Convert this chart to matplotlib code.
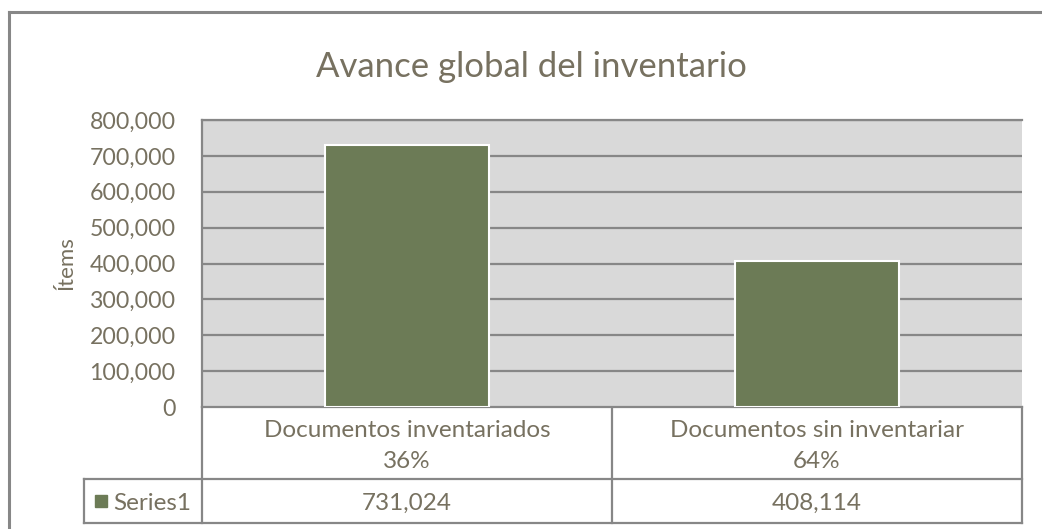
import matplotlib

matplotlib.use("Agg")

import matplotlib.pyplot as plt
from matplotlib.ticker import FuncFormatter

# data
categories = ["Documentos inventariados", "Documentos sin inventariar"]
shares = ["36%", "64%"]
values = [731024, 408114]
series_name = "Series1"
y_ticks = [0, 100000, 200000, 300000, 400000, 500000, 600000, 700000, 800000]

BAR = "#6C7B56"
PLOT_BG = "#D9D9D9"
LINE = "#878787"
TEXT = "#777160"
FONT = "Lato"

W, H = 1042, 529
fig = plt.figure(figsize=(W / 100, H / 100), dpi=100)
fig.patch.set_facecolor("white")

# pixel-space overlay for border, title and data table
bg = fig.add_axes([0, 0, 1, 1])
bg.set_xlim(0, W)
bg.set_ylim(H, 0)
bg.axis("off")

# plot area (202..1022 x 120..407 px)
ax = fig.add_axes([202 / W, 1 - 407 / H, 820 / W, 287 / H])
ax.set_facecolor(PLOT_BG)
x = range(len(values))
ax.bar(x, values, width=0.4, color=BAR, edgecolor="white", linewidth=1.5, zorder=3)
ax.set_xlim(-0.5, len(values) - 0.5)
ax.set_ylim(y_ticks[0], y_ticks[-1])
ax.set_yticks(y_ticks)
ax.yaxis.set_major_formatter(FuncFormatter(lambda v, _: f"{int(v):,}"))
ax.set_xticks([])
ax.tick_params(axis="y", length=0, pad=19, labelsize=16.7, labelcolor=TEXT)
for lbl in ax.get_yticklabels():
    lbl.set_fontfamily(FONT)
ax.grid(axis="y", color=LINE, linewidth=1.6, zorder=1)
for side in ["top", "right", "bottom"]:
    ax.spines[side].set_visible(False)
ax.spines["left"].set_color(LINE)
ax.spines["left"].set_linewidth(1.6)
ax.axhline(y_ticks[-1], color=LINE, linewidth=1.6, zorder=1, clip_on=False)

# chart outer border (left and top visible)
bg.plot([9, 9], [12, H], color=LINE, linewidth=2.2)
bg.plot([9, W], [12, 12], color=LINE, linewidth=2.2)

bg.text(531, 67, "Avance global del inventario", ha="center", va="center",
        fontsize=25, color=TEXT, family=FONT)
bg.text(66, 263, "Ítems", ha="center", va="center", rotation=90,
        fontsize=16, color=TEXT, family=FONT)

# data table
left, mid, right = 202, 612, 1022
row0, row1, row2 = 407, 479, 523
key_left = 84
lw = 1.6
bg.plot([left, right], [row0, row0], color=LINE, linewidth=lw)
bg.plot([key_left, right], [row1, row1], color=LINE, linewidth=lw)
bg.plot([key_left, right], [row2, row2], color=LINE, linewidth=lw)
for xx in (left, mid, right):
    bg.plot([xx, xx], [row0, row2], color=LINE, linewidth=lw)
bg.plot([key_left, key_left], [row1, row2], color=LINE, linewidth=lw)

centers = [(left + mid) / 2, (mid + right) / 2]
for cx, cat, share, val in zip(centers, categories, shares, values):
    bg.text(cx, 437, cat, ha="center", va="baseline", fontsize=17.5,
            color=TEXT, family=FONT)
    bg.text(cx, 468, share, ha="center", va="baseline", fontsize=17.5,
            color=TEXT, family=FONT)
    bg.text(cx, 510, f"{val:,}", ha="center", va="baseline", fontsize=17.5,
            color=TEXT, family=FONT)

bg.plot([101], [501], marker="s", markersize=8, color=BAR, linestyle="none")
bg.text(113, 510, series_name, ha="left", va="baseline", fontsize=17.5,
        color=TEXT, family=FONT)

fig.savefig("out.png", dpi=100, facecolor="white")
